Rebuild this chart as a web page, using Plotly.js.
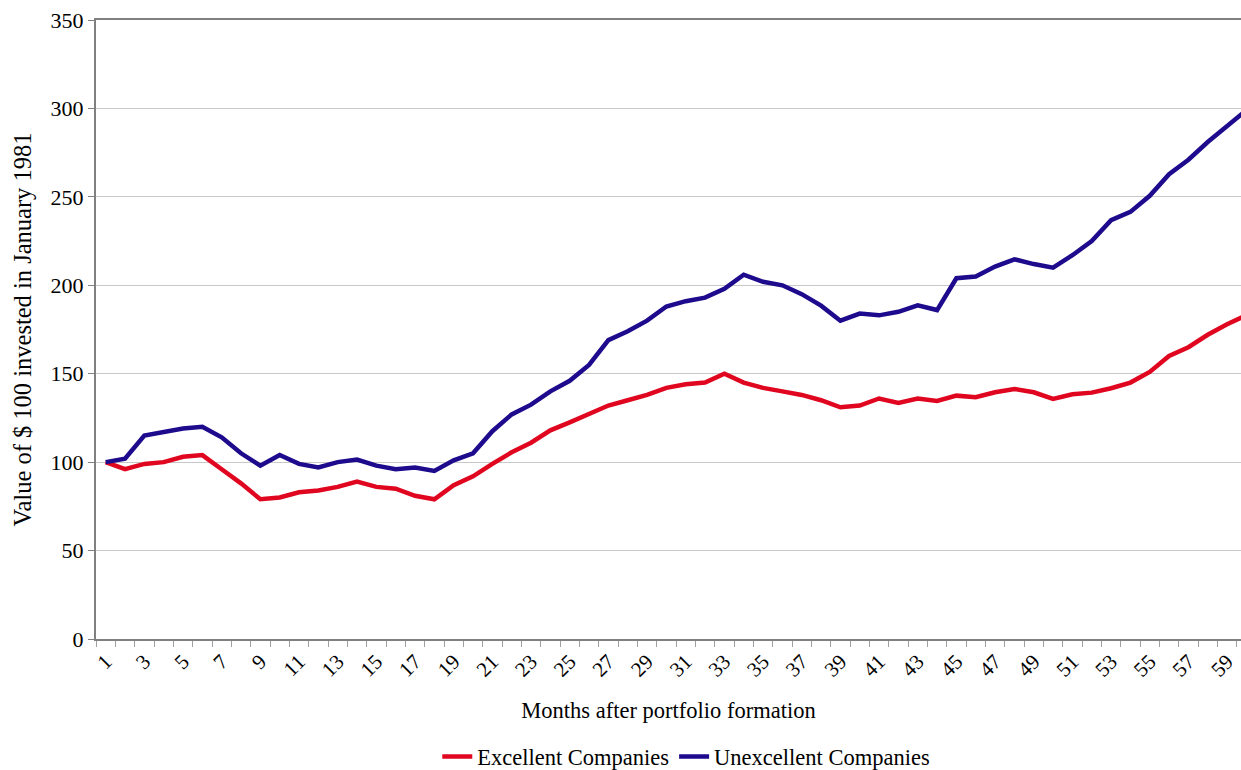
<!DOCTYPE html>
<html>
<head>
<meta charset="utf-8">
<script src="https://cdn.plot.ly/plotly-3.0.1.min.js"></script>
<style>html,body{margin:0;padding:0;background:#fff;}#chart{width:1241px;height:770px;}</style>
</head>
<body>
<div id="chart"></div>
<script>
const months = Array.from({length: 60}, (_, i) => i + 1);
const excellent = [100, 96, 99, 100, 103, 104, 96, 88, 79, 80,
  83, 84, 86, 89, 86, 85, 81, 79, 87, 92,
  99, 105.6, 111, 118, 122.5, 127, 132, 135, 138, 142,
  144, 145, 150, 145, 142, 140, 138, 135, 131, 132,
  136, 133.5, 136, 134.6, 137.6, 136.7, 139.5, 141.4, 139.5, 135.8,
  138.4, 139.3, 141.8, 145, 151, 160, 165, 172, 178, 183];
const unexcellent = [100, 102, 115, 117, 119, 120, 114, 105, 98, 104,
  99, 97, 100, 101.5, 98, 96, 97, 95, 101, 105,
  117.5, 127, 132.5, 140, 146, 155, 169, 174, 180, 188,
  191, 193, 198, 206, 202, 200, 195, 188.5, 180, 184,
  183, 185, 188.7, 186, 204, 205, 210.6, 214.7, 212, 210,
  217, 225, 236.8, 241.5, 250.6, 262.8, 271, 281, 290, 299];
const tickMonths = months.filter(m => m % 2 === 1 && m < 60);
const tickLabels = tickMonths.map(String);
const boundaries = [0].concat(months).map(m => m + 0.5);

const FONT = "Liberation Serif, Times New Roman, serif";

const traces = [
  {x: months, y: excellent, name: "Excellent Companies", type: "scatter", mode: "lines",
   line: {color: "#e0061f", width: 4.5}},
  {x: months, y: unexcellent, name: "Unexcellent Companies", type: "scatter", mode: "lines",
   line: {color: "#1d0a8c", width: 4.5}}
];

const layout = {
  width: 1241, height: 770,
  margin: {l: 96, r: 0, t: 20, b: 131},
  paper_bgcolor: "#fff", plot_bgcolor: "#fff",
  font: {family: FONT, color: "#000", size: 22},
  showlegend: true,
  legend: {orientation: "h", xref: "container", yref: "container",
    x: 0.553, xanchor: "center", y: 0.017, yanchor: "middle",
    font: {family: FONT, size: 22.5, color: "#000"}},
  xaxis: {
    range: [0.5, 59.72], automargin: false,
    tickmode: "array", tickvals: tickMonths, ticktext: tickLabels,
    tickangle: -45, ticks: "", tickfont: {family: FONT, size: 21, color: "#000"},
    showline: true, linecolor: "#808080", linewidth: 2, mirror: true,
    showgrid: false, zeroline: false,
    minor: {tickmode: "array", tickvals: boundaries, ticks: "outside", ticklen: 6,
      tickcolor: "#a0a0a0", tickwidth: 1, showgrid: false},
    title: {text: "Months after portfolio formation", font: {family: FONT, size: 22.5, color: "#000"}, standoff: 22}
  },
  yaxis: {
    range: [0, 350], tickmode: "linear", tick0: 0, dtick: 50, automargin: false,
    ticks: "outside", ticklen: 6, tickcolor: "#808080",
    tickfont: {family: FONT, size: 22, color: "#000"},
    showline: true, linecolor: "#808080", linewidth: 2,
    showgrid: true, gridcolor: "#c8c8c8", gridwidth: 1, zeroline: false,
    title: {text: "Value of $ 100 invested in January 1981", font: {family: FONT, size: 24.5, color: "#000"}, standoff: 12}
  }
};

Plotly.newPlot("chart", traces, layout, {displayModeBar: false, staticPlot: true});
</script>
</body>
</html>
